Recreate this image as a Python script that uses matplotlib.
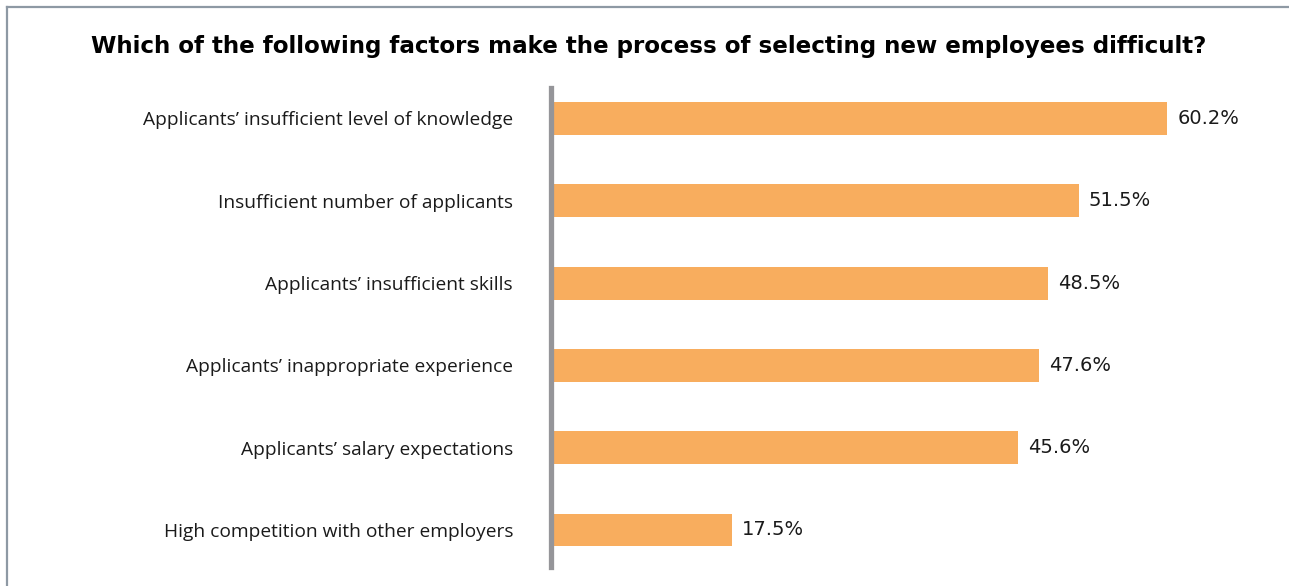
import matplotlib
matplotlib.use("Agg")
import matplotlib.pyplot as plt
from matplotlib.lines import Line2D

# Survey results
categories = [
    "Applicants’ insufficient level of knowledge",
    "Insufficient number of applicants",
    "Applicants’ insufficient skills",
    "Applicants’ inappropriate experience",
    "Applicants’ salary expectations",
    "High competition with other employers",
]
values = [60.2, 51.5, 48.5, 47.6, 45.6, 17.5]
value_labels = ["60.2%", "51.5%", "48.5%", "47.6%", "45.6%", "17.5%"]
title = "Which of the following factors make the process of selecting new employees difficult?"

W, H, DPI = 1289, 586, 100
fig = plt.figure(figsize=(W / DPI, H / DPI), dpi=DPI)
fig.patch.set_facecolor("white")

# Frame around the figure (top and left edges visible)
frame_color = "#8e99a4"
fig.add_artist(Line2D([7 / W, 1.0], [1 - 7 / H, 1 - 7 / H], transform=fig.transFigure,
                      color=frame_color, lw=1.6))
fig.add_artist(Line2D([7 / W, 7 / W], [0.0, 1 - 7 / H], transform=fig.transFigure,
                      color=frame_color, lw=1.6))

ax_left, ax_top, ax_bottom = 550.5, 88.0, 567.0
ax = fig.add_axes([ax_left / W, 1 - ax_bottom / H, 1 - ax_left / W, (ax_bottom - ax_top) / H])

y = list(range(len(categories)))
ax.barh(y, values, height=0.40, color="#F8AD5E", zorder=2)

for yi, v, lab in zip(y, values, value_labels):
    ax.annotate(lab, xy=(v, yi), xytext=(7.3, 0), textcoords="offset points",
                va="center", ha="left", fontsize=14, family="DejaVu Sans",
                color="#1a1a1a")

ax.set_xlim(-0.27, 72.13)
ax.set_ylim(5.45, -0.37)

ax.set_yticks(y)
ax.set_yticklabels(categories, fontsize=13.8, family="Open Sans", color="#1a1a1a")
ax.tick_params(axis="y", length=0, pad=27)
ax.set_xticks([])

for side in ["top", "right", "bottom"]:
    ax.spines[side].set_visible(False)
ax.spines["left"].set_color("#959599")
ax.spines["left"].set_linewidth(3.8)

fig.text(649 / W, 1 - 47 / H, title, ha="center", va="center",
         fontsize=16.6, fontweight="bold", family="DejaVu Sans", color="black")

fig.savefig("out.png", dpi=DPI)
